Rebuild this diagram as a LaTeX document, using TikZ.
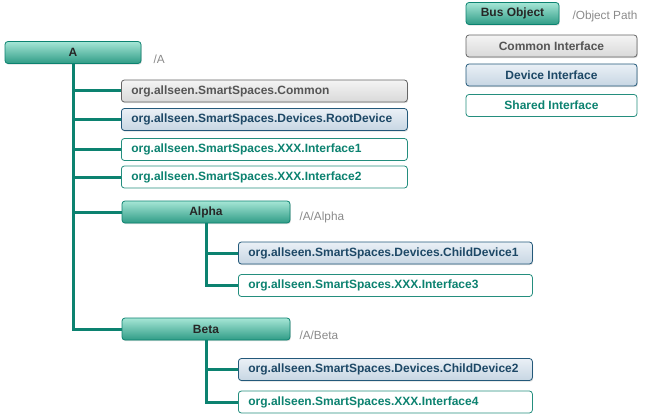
\documentclass[tikz,border=0pt]{standalone}
\usepackage{fontspec}
\setmainfont{Liberation Sans}
\usetikzlibrary{shadows}
\definecolor{teal1}{HTML}{0C8270}
\definecolor{bustop}{HTML}{A6E6D6}
\definecolor{busbot}{HTML}{2F9C86}
\definecolor{comtop}{HTML}{F4F4F4}
\definecolor{combot}{HTML}{D9D9D9}
\definecolor{comtext}{HTML}{555555}
\definecolor{devtop}{HTML}{EAF0F6}
\definecolor{devbot}{HTML}{C7D6E3}
\definecolor{devline}{HTML}{23597A}
\definecolor{devtext}{HTML}{1D4866}
\definecolor{pathgray}{HTML}{8A8A8A}
\def\LvlOne{121}
\def\LvlTwo{238}

\tikzset{
  box/.style={rounded corners=3pt, minimum height=22pt, inner sep=0pt,
    font=\fontsize{12}{13}\selectfont\bfseries, line width=0.8pt,
    drop shadow={shadow xshift=0.8pt, shadow yshift=-1.2pt, opacity=0.25}},
  busobj/.style={box, draw=teal1, top color=bustop, bottom color=busbot, text=black!85},
  common/.style={box, draw=black!60, top color=comtop, bottom color=combot, text=comtext},
  device/.style={box, draw=devline, top color=devtop, bottom color=devbot, text=devtext},
  shared/.style={rounded corners=3pt, minimum height=22pt, inner sep=0pt,
    font=\fontsize{12}{13}\selectfont\bfseries, line width=0.8pt,
    draw=teal1!90, fill=white, text=teal1},
  iface/.style={anchor=west, text width=#1-20pt, minimum width=#1, align=left, inner xsep=10pt},
  objpath/.style={anchor=west, text=pathgray, font=\fontsize{11.8}{13}\selectfont},
  trunk/.style={draw=teal1, line width=3pt}
}

\begin{document}
\begin{tikzpicture}[x=1pt,y=-1pt]
\useasboundingbox (0,0) rectangle (658,417);

% legend
\node[busobj, minimum width=93pt] (legbus) at (512.5,13.5) {Bus Object};
\node[objpath] (legpath) at (569,16.5) {/Object Path};
\node[common, minimum width=171pt] (legcom) at (551.5,46) {Common Interface};
\node[device, minimum width=171pt] (legdev) at (551.5,75) {Device Interface};
\node[shared, minimum width=171pt] (legshr) at (551.5,105.5) {Shared Interface};

% bus objects
\node[busobj, minimum width=136pt] (A) at (73,52.5) {A};
\node[objpath] (pathA) at (150,59) {/A};
\node[busobj, minimum width=168pt] (alpha) at (206,212) {Alpha};
\node[objpath] (pathalpha) at (296,217.5) {/A/Alpha};
\node[busobj, minimum width=168pt] (beta) at (206,329) {Beta};
\node[objpath] (pathbeta) at (296,335) {/A/Beta};

% interfaces of A
\node[common, iface=286pt] (common) at (\LvlOne,91) {org.allseen.SmartSpaces.Common};
\node[device, iface=286pt] (rootdev) at (\LvlOne,119.5) {org.allseen.SmartSpaces.Devices.RootDevice};
\node[shared, iface=286pt] (if1) at (\LvlOne,149.5) {org.allseen.SmartSpaces.XXX.Interface1};
\node[shared, iface=286pt] (if2) at (\LvlOne,177) {org.allseen.SmartSpaces.XXX.Interface2};

% interfaces of Alpha
\node[device, iface=294pt] (child1) at (\LvlTwo,253) {org.allseen.SmartSpaces.Devices.ChildDevice1};
\node[shared, iface=294pt] (if3) at (\LvlTwo,285.5) {org.allseen.SmartSpaces.XXX.Interface3};

% interfaces of Beta
\node[device, iface=294pt] (child2) at (\LvlTwo,369.5) {org.allseen.SmartSpaces.Devices.ChildDevice2};
\node[shared, iface=294pt] (if4) at (\LvlTwo,402) {org.allseen.SmartSpaces.XXX.Interface4};

% tree lines
\foreach \kid in {common,rootdev,if1,if2,alpha,beta}
  \draw[trunk] (A.south) |- (\kid.west);
\foreach \kid in {child1,if3}
  \draw[trunk] (alpha.south) |- (\kid.west);
\foreach \kid in {child2,if4}
  \draw[trunk] (beta.south) |- (\kid.west);
\end{tikzpicture}
\end{document}
